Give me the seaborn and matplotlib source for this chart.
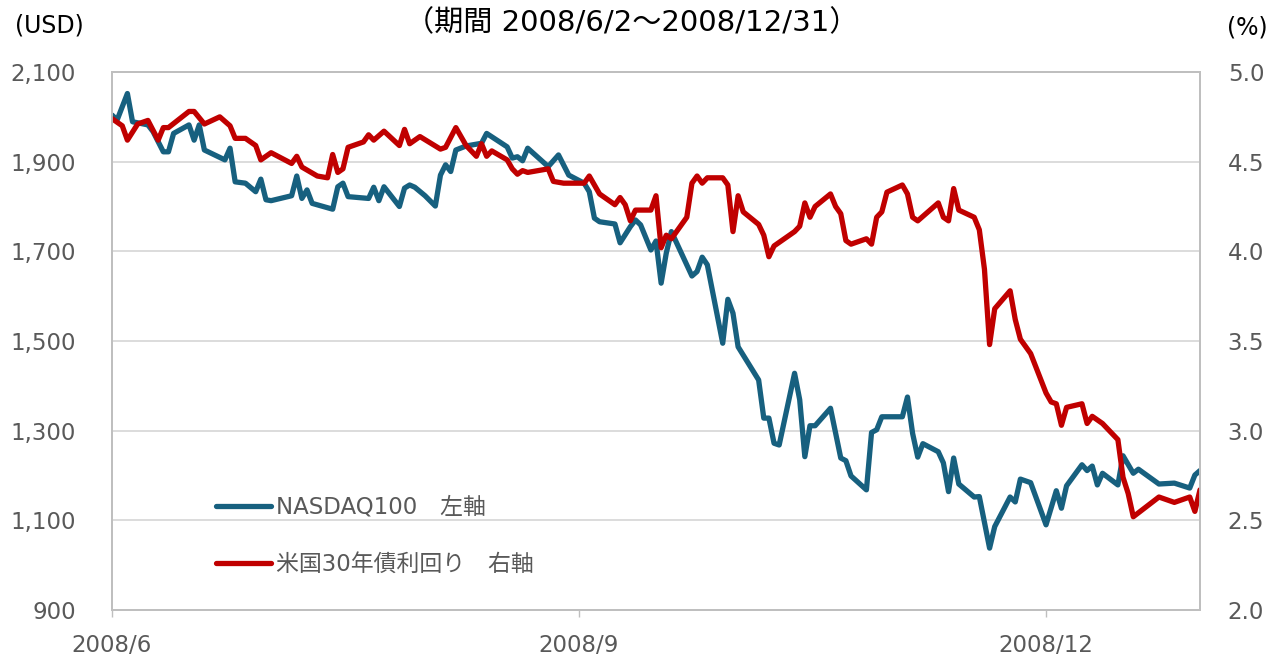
import pandas as pd
import matplotlib
matplotlib.use("Agg")
import matplotlib.pyplot as plt
import matplotlib.ticker as mticker
import seaborn as sns

# NASDAQ100 (left axis, USD)
nasdaq_days = [
    "06-02", "06-03", "06-05", "06-06", "06-09", "06-10", "06-12", "06-13", "06-14", "06-17",
    "06-18", "06-19", "06-20", "06-24", "06-25", "06-26", "06-28", "06-30", "07-01", "07-02",
    "07-03", "07-07", "07-08", "07-09", "07-10", "07-11", "07-15", "07-16", "07-17", "07-18",
    "07-22", "07-23", "07-24", "07-25", "07-28", "07-29", "07-30", "07-31", "08-02", "08-04",
    "08-05", "08-06", "08-07", "08-08", "08-10", "08-12", "08-13", "08-14", "08-18", "08-19",
    "08-20", "08-21", "08-22", "08-26", "08-28", "08-30", "09-02", "09-03", "09-04", "09-05",
    "09-08", "09-09", "09-11", "09-12", "09-13", "09-15", "09-16", "09-17", "09-18", "09-19",
    "09-23", "09-24", "09-25", "09-26", "09-29", "09-30", "10-01", "10-02", "10-06", "10-07",
    "10-08", "10-09", "10-10", "10-13", "10-14", "10-15", "10-16", "10-17", "10-20", "10-22",
    "10-23", "10-24", "10-27", "10-28", "10-29", "10-30", "11-03", "11-04", "11-05", "11-06",
    "11-07", "11-10", "11-11", "11-12", "11-13", "11-14", "11-17", "11-18", "11-20", "11-21",
    "11-24", "11-25", "11-26", "11-28", "12-01", "12-03", "12-04", "12-05", "12-08", "12-09",
    "12-10", "12-11", "12-12", "12-15", "12-16", "12-18", "12-19", "12-23", "12-26", "12-29",
    "12-30", "12-31",
]
nasdaq_values = [
    2004, 1993, 2052, 1989, 1982, 1967, 1922, 1922, 1963, 1982,
    1948, 1982, 1926, 1904, 1930, 1855, 1852, 1833, 1861, 1815,
    1813, 1824, 1868, 1818, 1837, 1807, 1794, 1844, 1852, 1822,
    1818, 1843, 1813, 1844, 1800, 1841, 1848, 1843, 1824, 1801,
    1870, 1893, 1878, 1926, 1935, 1939, 1941, 1963, 1933, 1908,
    1911, 1902, 1930, 1889, 1915, 1870, 1852, 1833, 1774, 1766,
    1761, 1719, 1755, 1770, 1759, 1703, 1723, 1629, 1696, 1744,
    1645, 1655, 1687, 1670, 1495, 1593, 1562, 1487, 1413, 1328,
    1328, 1272, 1268, 1428, 1369, 1242, 1311, 1311, 1350, 1239,
    1233, 1199, 1168, 1296, 1302, 1331, 1331, 1375, 1294, 1241,
    1271, 1253, 1228, 1164, 1239, 1181, 1152, 1153, 1038, 1086,
    1152, 1141, 1192, 1184, 1090, 1166, 1127, 1177, 1224, 1211,
    1221, 1179, 1205, 1179, 1244, 1205, 1214, 1181, 1183, 1172,
    1201, 1211,
]

# US 30y treasury yield (right axis, %)
yield_days = [
    "06-02", "06-04", "06-05", "06-07", "06-09", "06-11", "06-12", "06-13", "06-17", "06-18",
    "06-20", "06-23", "06-25", "06-26", "06-28", "06-30", "07-01", "07-03", "07-07", "07-08",
    "07-09", "07-12", "07-14", "07-15", "07-16", "07-17", "07-18", "07-21", "07-22", "07-23",
    "07-25", "07-28", "07-29", "07-30", "08-01", "08-05", "08-06", "08-08", "08-10", "08-12",
    "08-13", "08-14", "08-15", "08-18", "08-19", "08-20", "08-21", "08-22", "08-26", "08-27",
    "08-29", "09-02", "09-03", "09-05", "09-08", "09-09", "09-10", "09-11", "09-12", "09-15",
    "09-16", "09-17", "09-18", "09-19", "09-22", "09-23", "09-24", "09-25", "09-26", "09-29",
    "09-30", "10-01", "10-02", "10-03", "10-06", "10-07", "10-08", "10-09", "10-13", "10-14",
    "10-15", "10-16", "10-17", "10-20", "10-21", "10-22", "10-23", "10-24", "10-27", "10-28",
    "10-29", "10-30", "10-31", "11-03", "11-04", "11-05", "11-06", "11-10", "11-11", "11-12",
    "11-13", "11-14", "11-17", "11-18", "11-19", "11-20", "11-21", "11-24", "11-25", "11-26",
    "11-28", "12-01", "12-02", "12-03", "12-04", "12-05", "12-08", "12-09", "12-10", "12-12",
    "12-15", "12-16", "12-17", "12-18", "12-23", "12-26", "12-29", "12-30", "12-31",
]
yield_values = [
    4.74, 4.70, 4.62, 4.71, 4.73, 4.62, 4.69, 4.69, 4.78, 4.78,
    4.71, 4.75, 4.70, 4.63, 4.63, 4.59, 4.51, 4.55, 4.49, 4.53,
    4.47, 4.42, 4.41, 4.54, 4.44, 4.46, 4.58, 4.61, 4.65, 4.62,
    4.67, 4.59, 4.68, 4.60, 4.64, 4.57, 4.58, 4.69, 4.59, 4.53,
    4.60, 4.53, 4.56, 4.51, 4.46, 4.43, 4.45, 4.44, 4.46, 4.39,
    4.38, 4.38, 4.42, 4.32, 4.26, 4.30, 4.26, 4.17, 4.23, 4.23,
    4.31, 4.02, 4.09, 4.07, 4.19, 4.38, 4.42, 4.38, 4.41, 4.41,
    4.37, 4.11, 4.31, 4.22, 4.15, 4.09, 3.97, 4.03, 4.11, 4.14,
    4.27, 4.19, 4.25, 4.32, 4.25, 4.21, 4.06, 4.04, 4.07, 4.04,
    4.19, 4.22, 4.33, 4.37, 4.32, 4.19, 4.17, 4.27, 4.19, 4.17,
    4.35, 4.23, 4.19, 4.12, 3.90, 3.48, 3.68, 3.78, 3.62, 3.51,
    3.43, 3.21, 3.16, 3.15, 3.03, 3.13, 3.15, 3.04, 3.08, 3.04,
    2.95, 2.74, 2.65, 2.52, 2.63, 2.60, 2.63, 2.55, 2.67,
]

left_ticks = [900, 1100, 1300, 1500, 1700, 1900, 2100]
right_ticks = [2.0, 2.5, 3.0, 3.5, 4.0, 4.5, 5.0]
month_ticks = ["2008-06-02", "2008-09-01", "2008-12-01"]
month_labels = ["2008/6", "2008/9", "2008/12"]

title_text = "（期間 2008/6/2～2008/12/31）"
nasdaq_label = "NASDAQ100　左軸"
yield_label = "米国30年債利回り　右軸"

sns.set_theme(style="white")
plt.rcParams["font.family"] = ["DejaVu Sans", "Noto Sans CJK JP"]

blue = "#17607F"
red = "#C00000"
gray_text = "#595959"
frame = "#BFBFBF"

nasdaq = pd.DataFrame({"date": pd.to_datetime(["2008-" + d for d in nasdaq_days]),
                       "value": nasdaq_values})
yields = pd.DataFrame({"date": pd.to_datetime(["2008-" + d for d in yield_days]),
                       "value": yield_values})

fig = plt.figure(figsize=(12.84, 6.57), dpi=100)
ax1 = fig.add_axes([112 / 1284, 47 / 657, 1088 / 1284, 538 / 657])
ax2 = ax1.twinx()

sns.lineplot(data=nasdaq, x="date", y="value", ax=ax1, color=blue, linewidth=3.8,
             label=nasdaq_label, legend=False, solid_joinstyle="round", solid_capstyle="round")
sns.lineplot(data=yields, x="date", y="value", ax=ax2, color=red, linewidth=3.8,
             label=yield_label, legend=False, solid_joinstyle="round", solid_capstyle="round")

ax1.set_xlim(pd.Timestamp("2008-06-02"), pd.Timestamp("2008-12-31"))
ax1.set_ylim(900, 2100)
ax2.set_ylim(2.0, 5.0)
ax1.set_yticks(left_ticks)
ax2.set_yticks(right_ticks)
ax1.yaxis.set_major_formatter(mticker.FuncFormatter(lambda v, p: f"{v:,.0f}"))
ax2.yaxis.set_major_formatter(mticker.FuncFormatter(lambda v, p: f"{v:.1f}"))
ax1.set_xticks(pd.to_datetime(month_ticks))
ax1.set_xticklabels(month_labels)

ax1.set_xlabel("")
ax1.set_ylabel("")
ax2.set_ylabel("")

ax1.yaxis.grid(True, color="#D9D9D9", linewidth=1.3)
ax1.xaxis.grid(False)
ax2.grid(False)

ax1.tick_params(axis="y", length=0, pad=26, labelsize=16.5, labelcolor=gray_text)
ax2.tick_params(axis="y", length=0, pad=20, labelsize=16.5, labelcolor=gray_text)
ax1.tick_params(axis="x", length=5, width=1, color=frame, pad=12, labelsize=16.5,
                labelcolor=gray_text, bottom=True)

for ax in (ax1, ax2):
    for s in ax.spines.values():
        s.set_color(frame)
        s.set_linewidth(1.3)

h1, l1 = ax1.get_legend_handles_labels()
h2, l2 = ax2.get_legend_handles_labels()
leg = ax2.legend(h1 + h2, l1 + l2, loc="center left",
                 bbox_to_anchor=(216 / 1284, 1 - 536 / 657), bbox_transform=fig.transFigure,
                 frameon=False, fontsize=16.5, handlelength=2.4, handletextpad=0.2,
                 labelspacing=1.5, borderpad=0, borderaxespad=0)
for t in leg.get_texts():
    t.set_color(gray_text)

fig.text(632 / 1284, 1 - 23 / 657, title_text, ha="center", va="center", fontsize=21, color="black")
fig.text(49 / 1284, 1 - 26 / 657, "(USD)", ha="center", va="center", fontsize=17, color="black")
fig.text(1247 / 1284, 1 - 27 / 657, "(%)", ha="center", va="center", fontsize=17, color="black")

fig.savefig("out.png", dpi=100)
